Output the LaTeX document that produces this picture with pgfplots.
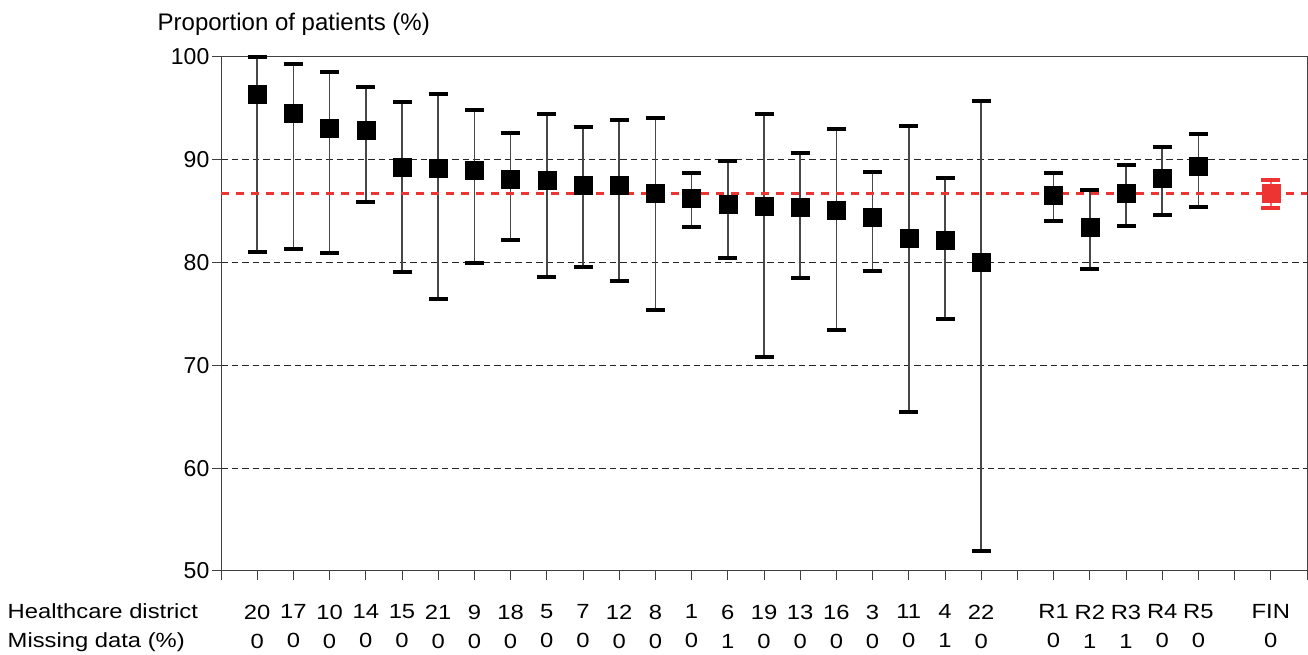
\documentclass[border=0pt]{standalone}
\usepackage{pgfplots}
\pgfplotsset{compat=1.18}
\usepackage{pgfplotstable}
\usepackage{fontspec}
\setmainfont{Liberation Sans}
\newfontfamily\widefont[FakeStretch=1.16]{Liberation Sans}
\definecolor{finred}{RGB}{238,51,51}
\definecolor{axgray}{RGB}{64,64,64}

\pgfplotstableread{
x  y     hi     lo
0  96.34 100.00 81.03
1  94.49 99.32  81.32
2  93.03 98.54  80.94
3  92.84 97.08  85.90
4  89.24 95.62  79.09
5  89.11 96.40  76.46
6  88.95 94.84  79.96
7  88.07 92.61  82.20
8  87.97 94.46  78.54
9  87.49 93.19  79.57
10 87.49 93.87  78.21
11 86.71 94.07  75.39
12 86.22 88.72  83.46
13 85.64 89.88  80.45
14 85.45 94.46  70.82
15 85.35 90.66  78.50
16 85.06 93.00  73.44
17 84.38 88.81  79.18
18 82.33 93.29  65.47
19 82.14 88.23  74.51
20 80.00 95.72  51.95
22 86.52 88.72  84.05
23 83.40 87.06  79.38
24 86.71 89.49  83.56
25 88.17 91.25  84.63
26 89.34 92.51  85.41
}\districts

\pgfplotstableread{
x  y     hi     lo
28 86.71 88.00  85.31
}\finland

\begin{document}
\begin{tikzpicture}
\useasboundingbox (-221pt,-84pt) rectangle (1087pt,571pt);
\begin{axis}[
  at={(0pt,0pt)}, anchor=south west,
  scale only axis,
  width=1086pt, height=514.3pt,
  xmin=-1, xmax=29, ymin=50, ymax=100,
  clip=false,
  axis line style={axgray, line width=1pt},
  tick pos=left,
  tick align=outside,
  major tick length=8.5pt,
  tick style={axgray, line width=1pt},
  ytick={50,60,70,80,90,100},
  ymajorgrids,
  major grid style={black!85, line width=1pt, dash pattern=on 6.5pt off 4pt},
  xtick={-1,0,...,29},
  xticklabels={{},{20\\0},{17\\0},{10\\0},{14\\0},{15\\0},{21\\0},{9\\0},{18\\0},{5\\0},{7\\0},{12\\0},{8\\0},{1\\0},{6\\1},{19\\0},{13\\0},{16\\0},{3\\0},{11\\0},{4\\1},{22\\0},{},{R1\\0},{R2\\1},{R3\\1},{R4\\0},{R5\\0},{},{FIN\\0},{}},
  xticklabel style={anchor=north, inner sep=0pt, align=center, yshift=-25pt, font=\widefont\fontsize{20.5}{29}\selectfont},
  yticklabel style={anchor=east, inner sep=0pt, xshift=-3pt, font=\fontsize{23}{27}\selectfont},
  /pgf/number format/assume math mode=true,
]
\addplot[
  only marks,
  mark=square*, mark size=9pt,
  mark options={fill=black, draw=black, line width=0.5pt},
  error bars/.cd,
    y dir=both, y explicit,
    error mark=|,
    error bar style={line width=1.6pt, black!72},
    error mark options={black, line width=4pt, mark size=9.5pt},
] table[x=x, y=y,
  y error plus expr={\thisrow{hi}-\thisrow{y}},
  y error minus expr={\thisrow{y}-\thisrow{lo}}] {\districts};
\addplot[
  only marks,
  mark=square*, mark size=9pt,
  mark options={fill=finred, draw=finred, line width=0.5pt},
  error bars/.cd,
    y dir=both, y explicit,
    error mark=|,
    error bar style={line width=1.6pt, finred!70},
    error mark options={finred, line width=4pt, mark size=9.5pt},
] table[x=x, y=y,
  y error plus expr={\thisrow{hi}-\thisrow{y}},
  y error minus expr={\thisrow{y}-\thisrow{lo}}] {\finland};
\addplot[finred, line width=3pt, dash pattern=on 8pt off 7pt] coordinates {(-1,86.72) (29,86.72)};
\end{axis}
\node[anchor=base west, inner sep=0pt, font=\fontsize{24}{28}\selectfont] at (-63.5pt,540.3pt) {Proportion of patients (\%)};
\node[anchor=base west, inner sep=0pt, font=\widefont\fontsize{20.5}{24}\selectfont] at (-213.5pt,-48pt) {Healthcare district};
\node[anchor=base west, inner sep=0pt, font=\widefont\fontsize{20.5}{24}\selectfont] at (-213.5pt,-77pt) {Missing data (\%)};
\end{tikzpicture}
\end{document}
